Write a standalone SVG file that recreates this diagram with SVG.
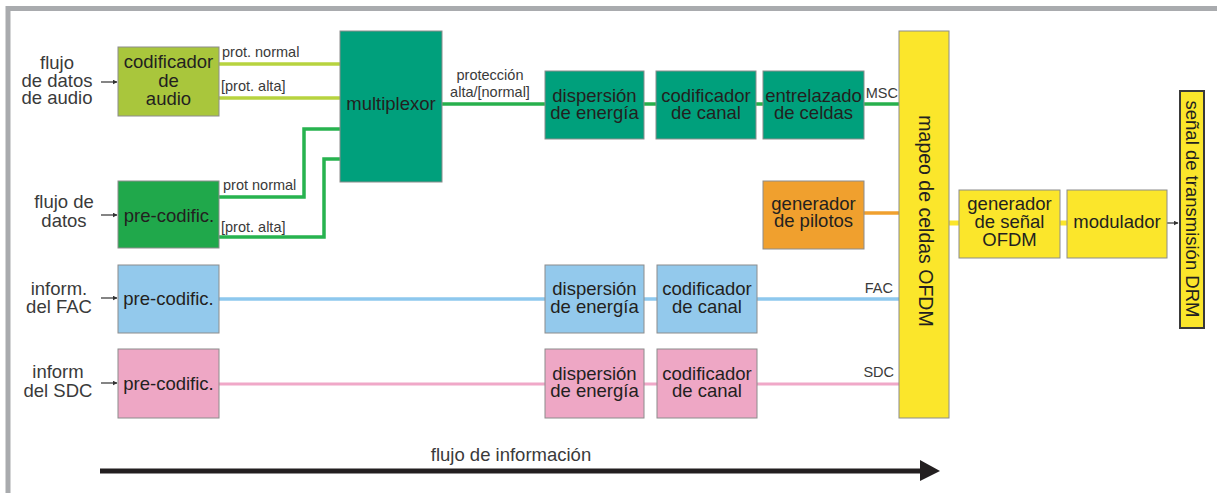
<svg xmlns="http://www.w3.org/2000/svg" width="1217" height="493" viewBox="0 0 1217 493">
<defs>
<style>
.box{stroke:#8c8c8c;stroke-width:1}
.t{font-family:"Liberation Sans",Arial,sans-serif;font-size:18.5px;fill:#231f20;text-anchor:middle}
.lbl{font-family:"Liberation Sans",Arial,sans-serif;font-size:18.5px;fill:#3a3a3a;text-anchor:middle}
.s{font-family:"Liberation Sans",Arial,sans-serif;font-size:14.5px;fill:#3a3a3a}
.yg{fill:#a9c63c}
.gr{fill:#20a84b}
.te{fill:#00a07c}
.or{fill:#f0a02e}
.ye{fill:#fbe62b}
.bl{fill:#93c9ec}
.pk{fill:#eea7c5}
.c{fill:none}
</style>
<marker id="sa" viewBox="0 0 10 10" refX="9" refY="5" markerWidth="5" markerHeight="5" orient="auto" markerUnits="userSpaceOnUse"><path d="M0,0 L10,5 L0,10 z" fill="#333"/></marker>
</defs>
<rect width="1217" height="493" fill="#ffffff"/>
<path d="M8,493 V8.5 H1217" fill="none" stroke="#a9abae" stroke-width="5"/>

<g id="connectors">
<line x1="219" y1="64" x2="340" y2="64" stroke="#b7d33f" stroke-width="3.5"/>
<line x1="219" y1="98" x2="340" y2="98" stroke="#b7d33f" stroke-width="3.5"/>
<path class="c" d="M219,197 H304 V129 H340" stroke="#27b34f" stroke-width="3.5"/>
<path class="c" d="M219,237 H324 V159 H340" stroke="#27b34f" stroke-width="3.5"/>
<line x1="442" y1="104" x2="899" y2="104" stroke="#27b04c" stroke-width="3.5"/>
<line x1="864" y1="213" x2="899" y2="213" stroke="#f0a02e" stroke-width="3.5"/>
<line x1="219" y1="299" x2="899" y2="299" stroke="#8ec8ee" stroke-width="3.5"/>
<line x1="219" y1="384" x2="899" y2="384" stroke="#f0a8c8" stroke-width="3"/>
<line x1="949" y1="223" x2="1067" y2="223" stroke="#fbe62b" stroke-width="5"/>
<line x1="101" y1="82" x2="117" y2="82" stroke="#333" stroke-width="1.2" marker-end="url(#sa)"/>
<line x1="101" y1="215" x2="117" y2="215" stroke="#333" stroke-width="1.2" marker-end="url(#sa)"/>
<line x1="101" y1="298" x2="117" y2="298" stroke="#333" stroke-width="1.2" marker-end="url(#sa)"/>
<line x1="101" y1="383" x2="117" y2="383" stroke="#333" stroke-width="1.2" marker-end="url(#sa)"/>
<line x1="1167" y1="223" x2="1178" y2="223" stroke="#333" stroke-width="1.2" marker-end="url(#sa)"/>
<text class="s" x="222" y="57">prot. normal</text>
<text class="s" x="221" y="91">[prot. alta]</text>
<text class="s" x="223" y="190">prot normal</text>
<text class="s" x="221" y="232">[prot. alta]</text>
<text class="s" x="490" y="80" text-anchor="middle">protección</text>
<text class="s" x="490" y="97" text-anchor="middle">alta/[normal]</text>
<text class="s" x="898" y="98" text-anchor="end">MSC</text>
<text class="s" x="893" y="293" text-anchor="end">FAC</text>
<text class="s" x="894" y="377" text-anchor="end">SDC</text>
</g>

<g id="in-audio"><text class="lbl" x="57" y="69">flujo</text><text class="lbl" x="57" y="87">de datos</text><text class="lbl" x="57" y="104">de audio</text></g>
<g id="in-datos"><text class="lbl" x="64" y="208">flujo de</text><text class="lbl" x="64" y="227">datos</text></g>
<g id="in-fac"><text class="lbl" x="59" y="295">inform.</text><text class="lbl" x="59" y="313">del FAC</text></g>
<g id="in-sdc"><text class="lbl" x="58" y="378">inform</text><text class="lbl" x="58" y="397">del SDC</text></g>

<g id="codificador-audio"><rect class="box yg" x="118" y="47" width="101" height="69"/><text class="t" x="168.5" y="68">codificador</text><text class="t" x="168.5" y="87">de</text><text class="t" x="168.5" y="105">audio</text></g>
<g id="precod-datos"><rect class="box gr" x="118" y="181" width="101" height="67"/><text class="t" x="169" y="222">pre-codific.</text></g>
<g id="multiplexor"><rect class="box te" x="340" y="31" width="102" height="151"/><text class="t" x="391" y="110">multiplexor</text></g>
<g id="dispersion-msc"><rect class="box te" x="545" y="71" width="99" height="68"/><text class="t" x="594.5" y="102">dispersión</text><text class="t" x="594.5" y="119">de energía</text></g>
<g id="codcanal-msc"><rect class="box te" x="656" y="71" width="100" height="68"/><text class="t" x="706" y="102">codificador</text><text class="t" x="706" y="119">de canal</text></g>
<g id="entrelazado"><rect class="box te" x="763" y="71" width="101" height="68"/><text class="t" x="813.5" y="102">entrelazado</text><text class="t" x="813.5" y="119">de celdas</text></g>
<g id="pilotos"><rect class="box or" x="763" y="181" width="101" height="68"/><text class="t" x="813.5" y="210">generador</text><text class="t" x="813.5" y="227">de pilotos</text></g>
<g id="precod-fac"><rect class="box bl" x="118" y="265" width="101" height="68"/><text class="t" x="168.5" y="305">pre-codific.</text></g>
<g id="dispersion-fac"><rect class="box bl" x="545" y="265" width="99" height="68"/><text class="t" x="594.5" y="295">dispersión</text><text class="t" x="594.5" y="313">de energía</text></g>
<g id="codcanal-fac"><rect class="box bl" x="657" y="265" width="100" height="68"/><text class="t" x="707" y="295">codificador</text><text class="t" x="707" y="313">de canal</text></g>
<g id="precod-sdc"><rect class="box pk" x="118" y="349" width="101" height="69"/><text class="t" x="168.5" y="390">pre-codific.</text></g>
<g id="dispersion-sdc"><rect class="box pk" x="545" y="349" width="99" height="69"/><text class="t" x="594.5" y="380">dispersión</text><text class="t" x="594.5" y="397">de energía</text></g>
<g id="codcanal-sdc"><rect class="box pk" x="657" y="349" width="100" height="69"/><text class="t" x="707" y="380">codificador</text><text class="t" x="707" y="397">de canal</text></g>
<g id="mapeo"><rect class="box ye" x="899" y="31" width="50" height="387"/><text class="t" transform="translate(925,221) rotate(90)" x="0" y="6.5" style="font-size:19.5px">mapeo de celdas OFDM</text></g>
<g id="gen-ofdm"><rect class="box ye" x="959" y="190" width="101" height="68"/><text class="t" x="1009.5" y="210">generador</text><text class="t" x="1009.5" y="228">de señal</text><text class="t" x="1009.5" y="246">OFDM</text></g>
<g id="modulador"><rect class="box ye" x="1067" y="190" width="100" height="68"/><text class="t" x="1117" y="228">modulador</text></g>
<g id="senal-drm"><rect class="ye" x="1180" y="91" width="24" height="237" stroke="#3a3a3a" stroke-width="2"/><text class="t" transform="translate(1192,209) rotate(90)" x="0" y="6.5" style="font-size:18.5px">señal de transmisión DRM</text></g>

<g id="flujo-informacion">
<line x1="100" y1="471" x2="922" y2="471" stroke="#231f20" stroke-width="5"/>
<polygon points="920,460 940,471 920,481" fill="#231f20"/>
<text class="lbl" x="511" y="461">flujo de información</text>
</g>
</svg>
